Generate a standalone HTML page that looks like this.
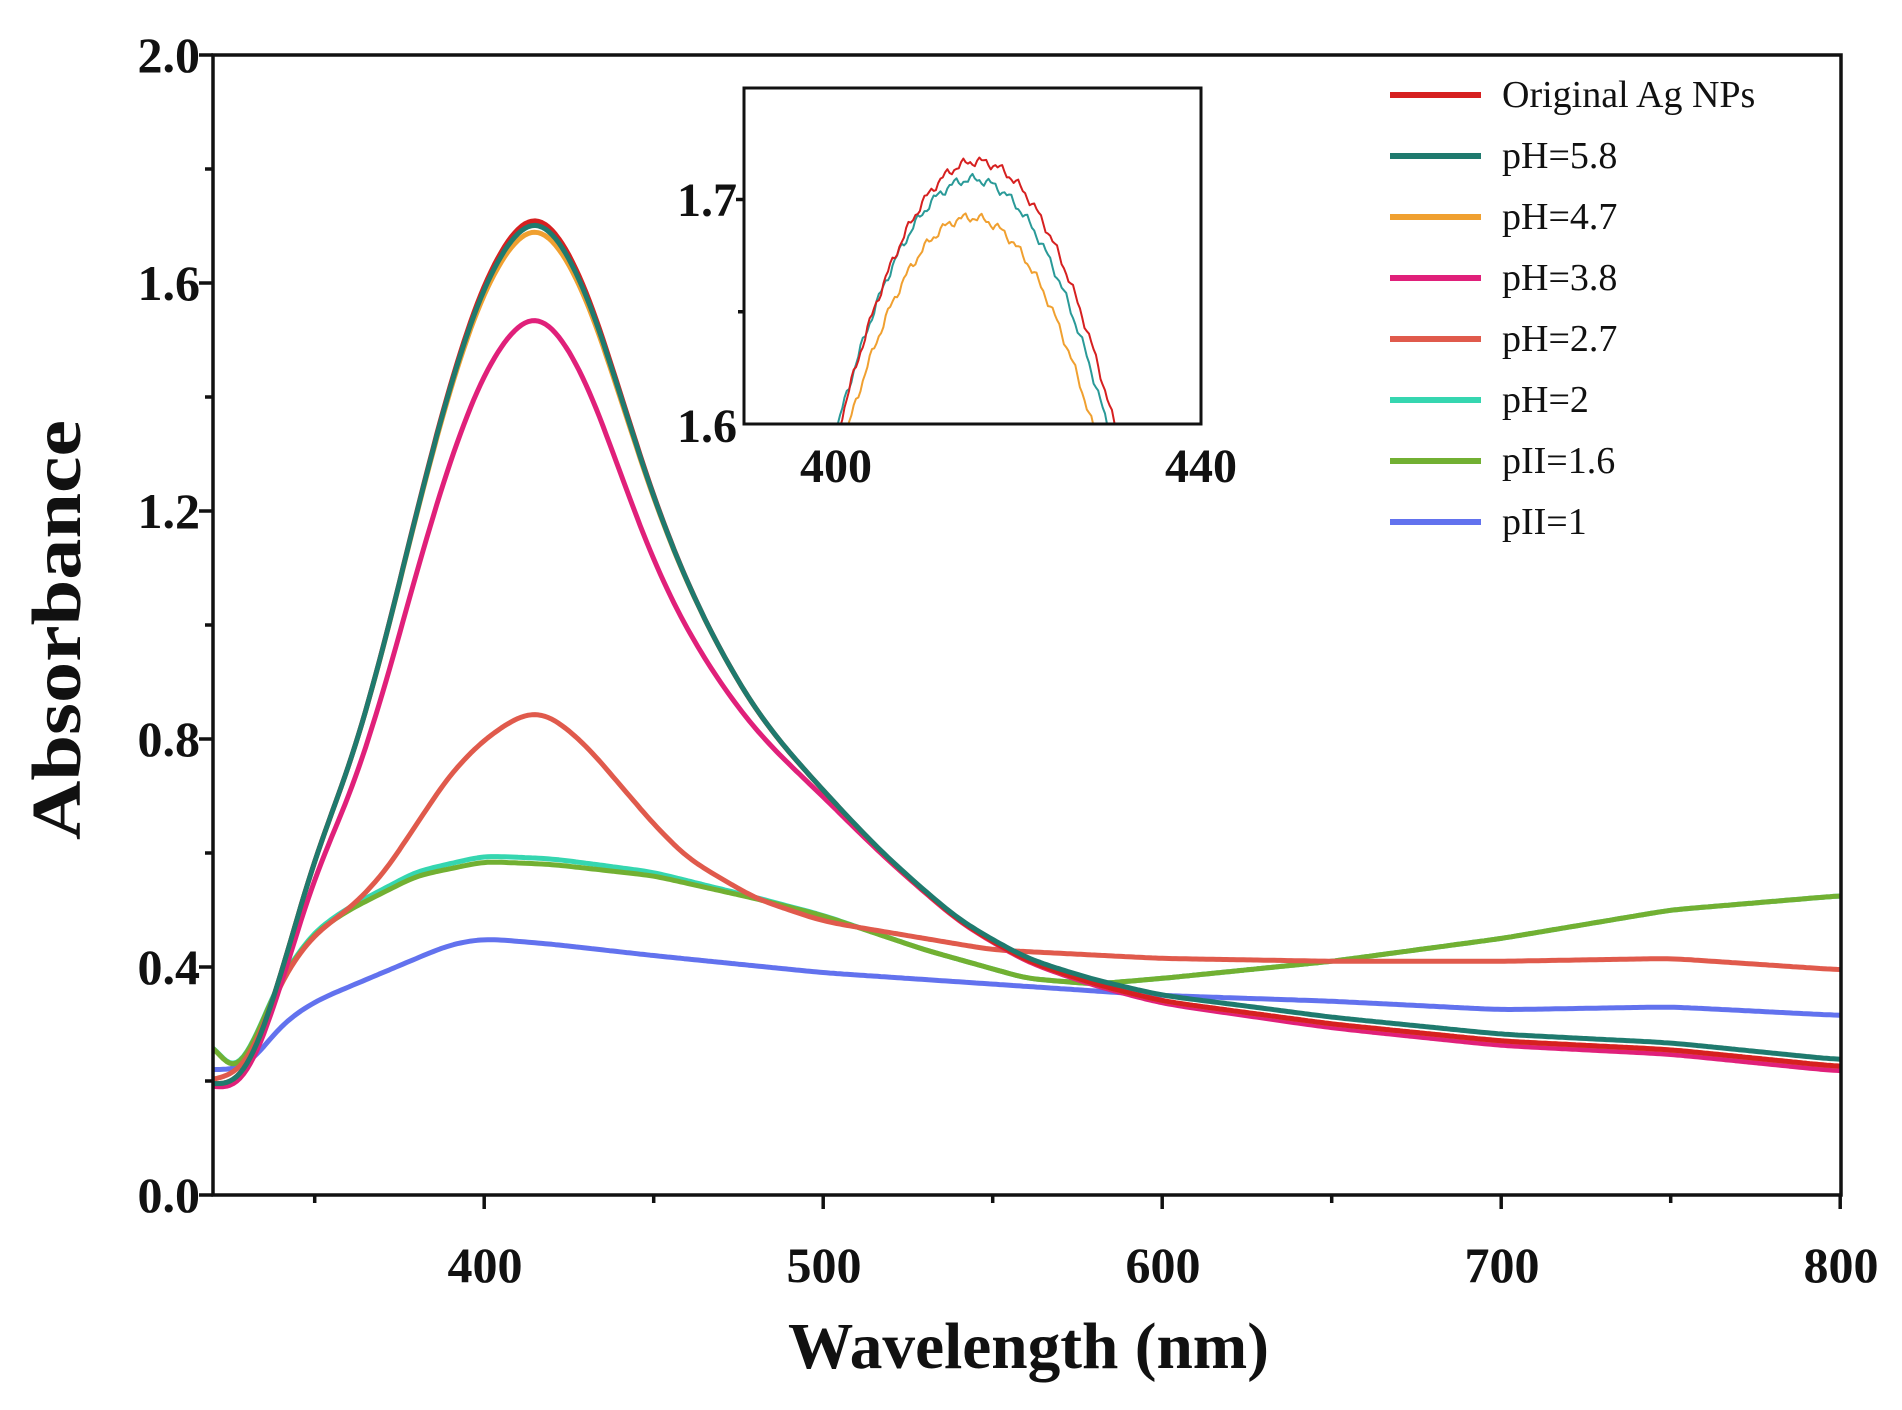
<!DOCTYPE html>
<html><head><meta charset="utf-8"><style>
html,body{margin:0;padding:0;background:#fff}
svg text{font-family:"Liberation Serif",serif;font-weight:bold;fill:#111}
svg text.n{font-weight:normal}
</style></head><body>
<svg id="s" width="1902" height="1405" viewBox="0 0 1902 1405" xmlns="http://www.w3.org/2000/svg">
<defs><clipPath id="cm"><rect x="213" y="55" width="1628" height="1140"/></clipPath>
<clipPath id="ci"><rect x="744" y="88" width="457" height="336"/></clipPath></defs>
<g id="main" clip-path="url(#cm)"></g>
<rect x="213" y="55" width="1628" height="1140" fill="none" stroke="#111" stroke-width="3.5"/>
<g id="ticks" stroke="#111" stroke-width="3.5"></g>
<g font-size="50">
<text x="200" y="72" text-anchor="end">2.0</text>
<text x="200" y="300" text-anchor="end">1.6</text>
<text x="200" y="528" text-anchor="end">1.2</text>
<text x="200" y="756" text-anchor="end">0.8</text>
<text x="200" y="984" text-anchor="end">0.4</text>
<text x="200" y="1212" text-anchor="end">0.0</text>
<text x="485" y="1282" text-anchor="middle">400</text>
<text x="824" y="1282" text-anchor="middle">500</text>
<text x="1163" y="1282" text-anchor="middle">600</text>
<text x="1502" y="1282" text-anchor="middle">700</text>
<text x="1841" y="1282" text-anchor="middle">800</text>
</g>
<text x="788" y="1368" font-size="66" textLength="481" lengthAdjust="spacingAndGlyphs">Wavelength (nm)</text>
<text transform="translate(80,840) rotate(-90)" font-size="70" textLength="420" lengthAdjust="spacingAndGlyphs">Absorbance</text>
<rect x="744" y="88" width="457" height="336" fill="#fff"/>
<g id="inset" clip-path="url(#ci)"></g>
<rect x="744" y="88" width="457" height="336" fill="none" stroke="#111" stroke-width="3"/>
<g font-size="48">
<text x="737" y="216" text-anchor="end">1.7</text>
<text x="737" y="442" text-anchor="end">1.6</text>
<text x="836" y="482" text-anchor="middle">400</text>
<text x="1201" y="482" text-anchor="middle">440</text>
</g>
<g id="legend" font-size="38"></g>
</svg>
<script>
const NS="http://www.w3.org/2000/svg";
function el(p,t,a){const e=document.createElementNS(NS,t);for(const k in a)e.setAttribute(k,a[k]);p.appendChild(e);return e;}
const X=w=>213+(w-320)*3.39, Y=a=>1195-a*570;
function lin(pts,x){for(let i=0;i<pts.length-1;i++){if(x<=pts[i+1][0]){const[a,b]=pts[i],[c,d]=pts[i+1];return b+(d-b)*(x-a)/(c-a);}}return pts[pts.length-1][1];}
function smooth(pts,sig){const arr=[];for(let x=300;x<=820;x++)arr.push(lin(pts,Math.min(Math.max(x,320),800)));
 const out={};for(let x=320;x<=800;x++){let s=0,w=0;for(let k=-3*sig;k<=3*sig;k++){const ww=Math.exp(-k*k/(2*sig*sig));s+=ww*arr[x-300+k];w+=ww;}out[x]=s/w;}
 return x=>out[Math.round(x)];}
const main=[[320,.2],[325,.18],[330,.2],[340,.38],[350,.6],[360,.74],[370,.95],[380,1.2],[390,1.43],[400,1.61],[410,1.71],[415,1.73],[420,1.71],[430,1.6],[440,1.41],[450,1.22],[460,1.07],[470,.95],[480,.85],[490,.775],[500,.71],[510,.645],[520,.585],[540,.48],[560,.41],[580,.37],[600,.34],[650,.3],[700,.27],[750,.255],[800,.225]];
const p27=[[320,.2],[330,.22],[340,.38],[350,.46],[360,.5],[370,.56],[380,.65],[390,.74],[400,.8],[410,.84],[415,.85],[420,.84],[430,.79],[440,.72],[450,.65],[460,.59],[480,.52],[500,.48],[520,.46],[550,.43],[600,.415],[650,.41],[700,.41],[750,.415],[800,.395]];
const p16=[[320,.27],[325,.21],[330,.24],[340,.38],[350,.46],[360,.5],[380,.56],[400,.585],[420,.58],[450,.56],[480,.52],[500,.49],[530,.43],[560,.38],[580,.37],[600,.38],[650,.41],[700,.45],[750,.5],[800,.525]];
const p1=[[320,.22],[330,.22],[340,.3],[350,.34],[370,.39],[390,.44],[400,.45],[420,.44],[450,.42],[500,.39],[550,.37],[600,.35],[650,.34],[700,.325],[750,.33],[800,.315]];
const g=(x,c,s)=>Math.exp(-((x-c)*(x-c))/(2*s*s));
const fm=smooth(main,5),f27=smooth(p27,4),f16=smooth(p16,3),f1=smooth(p1,4);
function draw(f,col,par,xf,yf,x0,x1,st,w){let d="";for(let x=x0;x<=x1;x+=st){d+=(d?"L":"M")+xf(x).toFixed(1)+","+yf(f(x)).toFixed(1);}el(par,"path",{d,fill:"none",stroke:col,"stroke-width":w,"stroke-linejoin":"round"});}
const m=document.getElementById("main");
const S=[
 [x=>f1(x),"#6272ee"],
 [x=>f16(x)+0.01*g(x,410,40),"#35d6b0"],
 [x=>f16(x),"#72b032"],
 [x=>f27(x),"#e05a4c"],
 [x=>fm(x)-0.175*g(x,416,36)-0.008*(1/(1+Math.exp(-(x-600)/30))),"#e0207a"],
 [x=>fm(x)-0.02*g(x,415,20),"#f0a030"],
 [x=>fm(x),"#d62020"],
 [x=>fm(x)-0.008*g(x,415,20)+0.012/(1+Math.exp(-(x-570)/20)),"#1f7a6e"]];
S.forEach(([f,c])=>draw(f,c,m,X,Y,320,800,1,5));
const t=document.getElementById("ticks");
for(let w=350;w<=800;w+=50){el(t,"line",{x1:X(w),x2:X(w),y1:1195,y2:1195+(w%100==0?14:8)});}
for(let a=0;a<=2.001;a+=0.2){const maj=Math.round(a*10)%4==0;el(t,"line",{x1:213,x2:213-(maj?14:8),y1:Y(a),y2:Y(a)});}
const IX=w=>744+(w-390)*9.14, IY=a=>424-(a-1.6)*2245;
const ins=document.getElementById("inset");
const inoise=x=>0.0015*Math.sin(x*3.1)+0.001*Math.sin(x*7.3);
draw(x=>1.692-0.092*Math.pow((x-414.8)/13.3,2)+inoise(x),"#f0a030",ins,IX,IY,395,435,0.25,2);
draw(x=>1.709-0.109*Math.pow((x-415)/14.7,2)+inoise(x+1),"#2a9a98",ins,IX,IY,395,435,0.25,2);
draw(x=>1.717-0.117*Math.pow((x-415.5)/15,2)+inoise(x+2),"#d62020",ins,IX,IY,395,435,0.25,2);
el(t,"line",{x1:744,x2:736,y1:IY(1.7),y2:IY(1.7)});el(t,"line",{x1:744,x2:738,y1:IY(1.65),y2:IY(1.65)});
const L=document.getElementById("legend");
const leg=[["Original Ag NPs","#d62020"],["pH=5.8","#1f7a6e"],["pH=4.7","#f0a030"],["pH=3.8","#e0207a"],["pH=2.7","#e05a4c"],["pH=2","#35d6b0"],["pII=1.6","#72b032"],["pII=1","#6272ee"]];
leg.forEach(([n,c],i)=>{const y=95+i*61;el(L,"line",{x1:1390,x2:1481,y1:y,y2:y,stroke:c,"stroke-width":6});
 const tx=el(L,"text",{x:1502,y:y+12,"class":"n"});tx.textContent=n;});
</script>
</body></html>
